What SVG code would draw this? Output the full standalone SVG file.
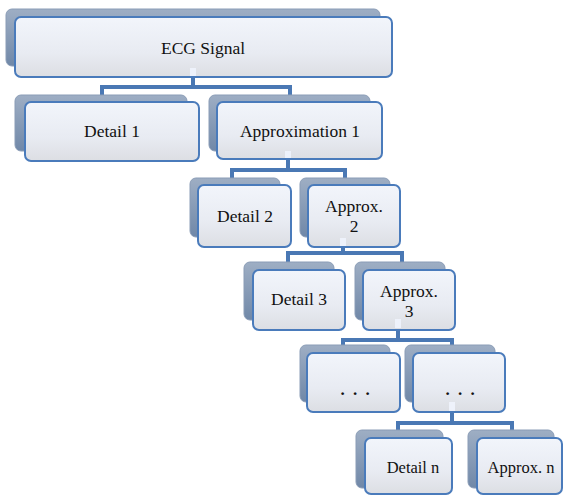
<svg xmlns="http://www.w3.org/2000/svg" width="564" height="495" viewBox="0 0 564 495">
<defs>
<linearGradient id="gf" x1="0" y1="0" x2="0" y2="1">
<stop offset="0" stop-color="#f2f5fb"/>
<stop offset="0.6" stop-color="#e8ebf2"/>
<stop offset="1" stop-color="#dcdee3"/>
</linearGradient>
<linearGradient id="gs" x1="0" y1="0" x2="0" y2="1">
<stop offset="0" stop-color="#9eaec4"/>
<stop offset="1" stop-color="#7088a8"/>
</linearGradient>
<style>
.s{fill:url(#gs);stroke:#8a9cb6;stroke-width:1}
.f{fill:url(#gf);stroke:#4a7bbb;stroke-width:2}
.c{fill:none;stroke:#4a78b4;stroke-width:4;stroke-linejoin:miter}
.t{font-family:"Liberation Serif","DejaVu Serif",serif;font-size:17.5px;fill:#111;text-anchor:middle}
.sm{font-size:16.5px}
.d{font-weight:bold;font-size:17px;word-spacing:4px}
.hl{fill:#eef2fb}
</style>
</defs>
<g id="connectors">
<path class="c" d="M193 76V87H102V96M193 87H290V96"/>
<path class="c" d="M288 158V170H232V178M288 170H345V178"/>
<path class="c" d="M343 246V253H288V262M343 253H402V262"/>
<path class="c" d="M398 329V340H343V346M398 340H452V346"/>
<path class="c" d="M452 411V423H398V431M452 423H512V431"/>
</g>
<g id="ecg">
<rect class="s" x="6" y="9" width="374" height="57" rx="6"/>
<rect class="f" x="15" y="17" width="377" height="60" rx="6"/>
<rect class="hl" x="190" y="68" width="6" height="8"/>
<text class="t" x="203" y="54">ECG Signal</text>
</g>
<g id="detail1">
<rect class="s" x="15" y="95" width="172" height="56" rx="6"/>
<rect class="f" x="25" y="102" width="174" height="59" rx="6"/>
<text class="t" x="112" y="137">Detail 1</text>
</g>
<g id="approx1">
<rect class="s" x="209" y="95" width="161" height="56" rx="6"/>
<rect class="f" x="217" y="102" width="165" height="57" rx="6"/>
<rect class="hl" x="285" y="151" width="6" height="7"/>
<text class="t" x="300" y="137">Approximation 1</text>
</g>
<g id="detail2">
<rect class="s" x="190" y="178" width="90" height="59" rx="6"/>
<rect class="f" x="198" y="185" width="93" height="62" rx="6"/>
<text class="t" x="245" y="222">Detail 2</text>
</g>
<g id="approx2">
<rect class="s" x="300" y="178" width="90" height="59" rx="6"/>
<rect class="f" x="308" y="185" width="92" height="62" rx="6"/>
<rect class="hl" x="340" y="238" width="6" height="8"/>
<text class="t" x="354" y="212">Approx.</text>
<text class="t" x="354" y="232">2</text>
</g>
<g id="detail3">
<rect class="s" x="244" y="262" width="90" height="58" rx="6"/>
<rect class="f" x="253" y="270" width="92" height="60" rx="6"/>
<text class="t" x="299" y="305">Detail 3</text>
</g>
<g id="approx3">
<rect class="s" x="355" y="262" width="90" height="58" rx="6"/>
<rect class="f" x="363" y="270" width="92" height="60" rx="6"/>
<rect class="hl" x="395" y="319" width="6" height="9"/>
<text class="t" x="409" y="297">Approx.</text>
<text class="t" x="409" y="317">3</text>
</g>
<g id="dots1">
<rect class="s" x="300" y="345" width="90" height="57" rx="6"/>
<rect class="f" x="307" y="353" width="93" height="59" rx="6"/>
<text class="t d" x="355" y="395">. . .</text>
</g>
<g id="dots2">
<rect class="s" x="405" y="345" width="90" height="57" rx="6"/>
<rect class="f" x="413" y="353" width="92" height="59" rx="6"/>
<rect class="hl" x="449" y="402" width="6" height="9"/>
<text class="t d" x="460" y="395">. . .</text>
</g>
<g id="detailn">
<rect class="s" x="356" y="430" width="87" height="58" rx="6"/>
<rect class="f" x="365" y="438" width="87" height="56" rx="6"/>
<text class="t sm" x="413" y="473">Detail n</text>
</g>
<g id="approxn">
<rect class="s" x="468" y="430" width="86" height="58" rx="6"/>
<rect class="f" x="477" y="438" width="85" height="56" rx="6"/>
<text class="t sm" x="521" y="473">Approx.  n</text>
</g>
</svg>
